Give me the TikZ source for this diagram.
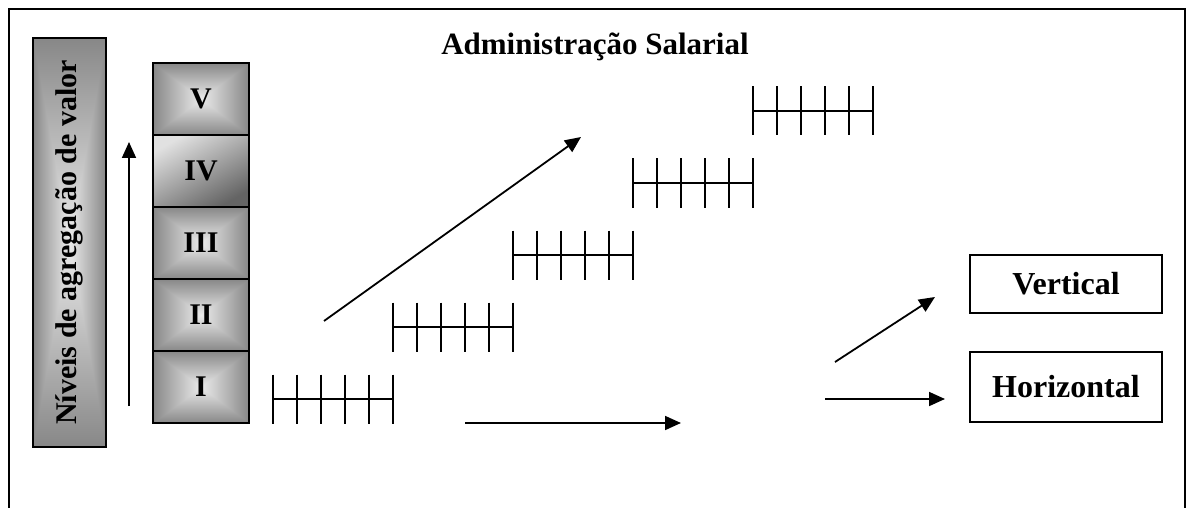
\documentclass[tikz,border=0pt]{standalone}
\usepackage{fontspec}
\setmainfont{Liberation Serif}
\usepackage{tikz}
\usetikzlibrary{arrows.meta}
\definecolor{SalDark}{RGB}{100,100,100}
\definecolor{SalLight}{RGB}{225,225,225}
\pgfdeclarefunctionalshading{bevel}{\pgfpoint{-50bp}{-50bp}}{\pgfpoint{50bp}{50bp}}{}{
  abs exch abs 2 copy lt {exch} if pop
  35.36 div dup 1 gt {pop 1} if 0.55 mul neg 0.92 add dup dup
}

\begin{document}
\begin{tikzpicture}[x=1pt,y=-1pt,line width=1.8pt,
  txt/.style={font=\fontsize{31}{31}\selectfont\bfseries},
  lvl/.style={draw,line width=1.4pt,minimum width=96pt,minimum height=72pt,inner sep=0pt,shading=bevel,font=\fontsize{30}{30}\selectfont\bfseries},
  res/.style={draw,line width=1.4pt,minimum width=192pt,inner sep=0pt,font=\fontsize{32}{32}\selectfont\bfseries},
  arr/.style={-{Triangle[length=16pt,width=14pt]}}]
\useasboundingbox (0,0) rectangle (1192,508);
\draw[line width=1.4pt] (9,508) -- (9,9) -- (1185,9) -- (1185,508);
\node[txt] (title) at (595,47) {Administração Salarial};
% escala de niveis
\node[draw,line width=1.4pt,minimum width=409pt,minimum height=73pt,inner sep=0pt,
  shading=bevel,rotate=90,font=\fontsize{30}{30}\selectfont\bfseries] (niveis) at (69.5,242.5)
  {Níveis de agregação de valor};
\foreach \y/\n in %
{387/I,315/II,243/III,99/V} {
   \node[lvl] (n\n) at (201,\y) {\n};
}
\node[lvl,shading=axis,top color=SalLight,bottom color=SalDark,shading angle=30] (nIV) at (201,171) {IV};
\coordinate (up0) at (129,406);
\coordinate (up1) at (129,142);
\draw[arr] (up0) -- (up1);
% faixas salariais
\foreach \i in {0,...,4} {
   \draw ({273+120*\i},{399-72*\i}) -- ++(120,0);
   \foreach \k in {0,...,5} {
      \draw ({273+120*\i+24*\k},{374.5-72*\i}) -- ++(0,49);
   }
}
\coordinate (d0) at (324,321);
\coordinate (d1) at (581,137);
\draw[arr] (d0) -- (d1);
\coordinate (h0) at (465,423);
\coordinate (h1) at (681,423);
\draw[arr] (h0) -- (h1);
% tipos
\node[res,minimum height=58pt] (vert) at (1066,284) {Vertical};
\node[res,minimum height=70pt] (horiz) at (1066,387) {Horizontal};
\coordinate (v0) at (835,362);
\coordinate (v1) at (935,297);
\draw[arr] (v0) -- (v1);
\coordinate (r0) at (825,399);
\coordinate (r1) at (945,399);
\draw[arr] (r0) -- (r1);
\end{tikzpicture}
\end{document}
